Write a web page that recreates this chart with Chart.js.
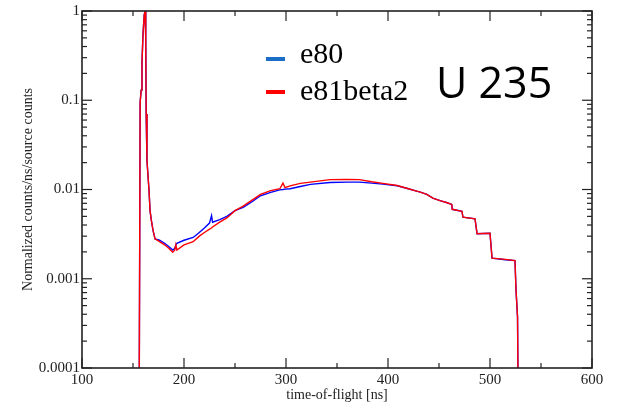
<!DOCTYPE html>
<html>
<head>
<meta charset="utf-8">
<script src="https://cdn.jsdelivr.net/npm/chart.js@4/dist/chart.umd.min.js"></script>
<style>body{margin:0;background:#fff}</style>
</head>
<body>
<canvas id="tofChart" width="620" height="405"></canvas>
<script>
// time-of-flight bins [ns]
const tof = [150,155.8,155.9,156.8,157.0,158.0,158.8,159.8,161.0,161.8,162.5,162.9,163.7,165.7,166.7,168.0,169.6,171.6,
    176,181,185,189,191,192,193,200,209,215,220,225,227,228,235,242,250,258,266,275,285,294,297,299,304,314,324,
    343,360,372,384,395,409,420,428,431,438,444,451,458,462.5,463,472.5,473.5,485.3,487.3,500,502,515,524.5,525.5,527,528];
const e81beta2 = [1e-5,1e-5,1e-5,1e-5,0.094,0.13,0.26,0.55,0.9,1.0,0.5,0.07,0.021,0.0098,0.0058,0.0045,0.0035,0.0028,
    0.0026,0.0024,0.0022,0.00198,0.0021,0.0024,0.0021,0.0024,0.0026,0.0030,0.0033,0.0036,0.0037,0.0038,0.0043,0.0048,
    0.0058,0.0065,0.0075,0.0088,0.0097,0.0102,0.0118,0.0105,0.0110,0.0117,0.0121,0.0129,0.0130,0.0129,0.0122,0.0117,
    0.0111,0.0102,0.0096,0.0094,0.0088,0.0080,0.0075,0.0071,0.0068,0.0060,0.0057,0.0049,0.0047,0.0032,0.00323,0.0017,
    0.00165,0.0016,0.00075,0.00037,1e-5];
const e80 = [1e-5,1e-5,1e-5,1e-5,0.094,0.13,0.26,0.55,0.9,1.0,0.5,0.07,0.021,0.0098,0.0058,0.0045,0.0035,0.0028,
    0.0027,0.0025,0.0023,0.0021,0.0022,0.0024,0.0025,0.0027,0.0029,0.0033,0.0037,0.0042,0.0051,0.0043,0.0046,0.0050,
    0.0058,0.0063,0.0072,0.0085,0.0093,0.0099,0.0100,0.0101,0.0102,0.0108,0.0114,0.0120,0.0121,0.0121,0.0118,0.0115,
    0.0110,0.0102,0.0096,0.0094,0.0088,0.0080,0.0075,0.0071,0.0068,0.0060,0.0057,0.0049,0.0047,0.0032,0.00323,0.0017,
    0.00163,0.0016,0.00075,0.00037,1e-5];

const xTicks = [100,200,300,400,500,600];
const xMinor = [150,250,350,450,550];
const yTicks = [0.0001,0.001,0.01,0.1,1];

const serif = 'Liberation Serif';

// inward ticks on all four sides, frame, legend and label
const frame = {
    id:'frame',
    afterDraw(chart){
        const {ctx, chartArea:a, scales:{x, y}} = chart;
        ctx.save();
        ctx.strokeStyle = '#222';
        ctx.lineWidth = 1.2;
        const tick = (x1, y1, x2, y2) => { ctx.beginPath(); ctx.moveTo(x1, y1); ctx.lineTo(x2, y2); ctx.stroke(); };
        xTicks.forEach(v => { const p = x.getPixelForValue(v); tick(p, a.bottom, p, a.bottom - 10); tick(p, a.top, p, a.top + 10); });
        xMinor.forEach(v => { const p = x.getPixelForValue(v); tick(p, a.bottom, p, a.bottom - 5); tick(p, a.top, p, a.top + 5); });
        yTicks.forEach(v => { const p = y.getPixelForValue(v); tick(a.left, p, a.left + 10, p); tick(a.right, p, a.right - 10, p); });
        yTicks.slice(0, -1).forEach(d => {
            for (let k = 2; k < 10; k++) {
                const p = y.getPixelForValue(d * k);
                tick(a.left, p, a.left + 5, p); tick(a.right, p, a.right - 5, p);
            }
        });
        ctx.lineWidth = 1.6;
        ctx.strokeRect(a.left, a.top, a.right - a.left, a.bottom - a.top);

        ctx.lineWidth = 4;
        ctx.strokeStyle = '#1a6ec8';
        tick(266, 59, 285, 59);
        ctx.strokeStyle = '#ff0000';
        tick(266, 92, 285, 92);
        ctx.fillStyle = '#000';
        ctx.font = '30px "' + serif + '"';
        ctx.textBaseline = 'alphabetic';
        ctx.fillText('e80', 300, 63);
        ctx.fillText('e81beta2', 300, 100);
        ctx.font = '43px "Open Sans"';
        ctx.fillText('U 235', 436, 98);
        ctx.restore();
    }
};

new Chart(document.getElementById('tofChart').getContext('2d'), {
    type:'line',
    data:{datasets:[
        {label:'e80', data:tof.map((t, i) => ({x:t, y:e80[i]})), borderColor:'#0000ff', borderWidth:1.4, order:1},
        {label:'e81beta2', data:tof.map((t, i) => ({x:t, y:e81beta2[i]})), borderColor:'#ff0000', borderWidth:1.4, order:0}
    ]},
    options:{
        responsive:false, animation:false,
        layout:{padding:{left:0, right:28, top:10, bottom:0}},
        elements:{point:{radius:0}, line:{tension:0}},
        plugins:{legend:{display:false}, tooltip:{enabled:false}},
        scales:{
            x:{type:'linear', min:100, max:600,
                afterBuildTicks:s => { s.ticks = xTicks.map(v => ({value:v})); },
                afterFit:s => { s.height = 37; },
                grid:{display:false, drawTicks:false}, border:{display:false},
                ticks:{font:{family:serif, size:15}, color:'#222', padding:3, maxRotation:0},
                title:{display:true, text:'time-of-flight [ns]', font:{family:serif, size:14}, color:'#222', padding:{top:0, bottom:1}}},
            y:{type:'logarithmic', min:0.0001, max:1,
                afterBuildTicks:s => { s.ticks = yTicks.map(v => ({value:v})); },
                afterFit:s => { s.width = 82; },
                grid:{display:false, drawTicks:false}, border:{display:false},
                ticks:{font:{family:serif, size:15}, color:'#222', padding:2, callback:v => String(v)},
                title:{display:true, text:'Normalized counts/ns/source counts', font:{family:serif, size:14}, color:'#222', padding:{top:20, bottom:0}}}
        }
    },
    plugins:[frame]
});
</script>
</body>
</html>
